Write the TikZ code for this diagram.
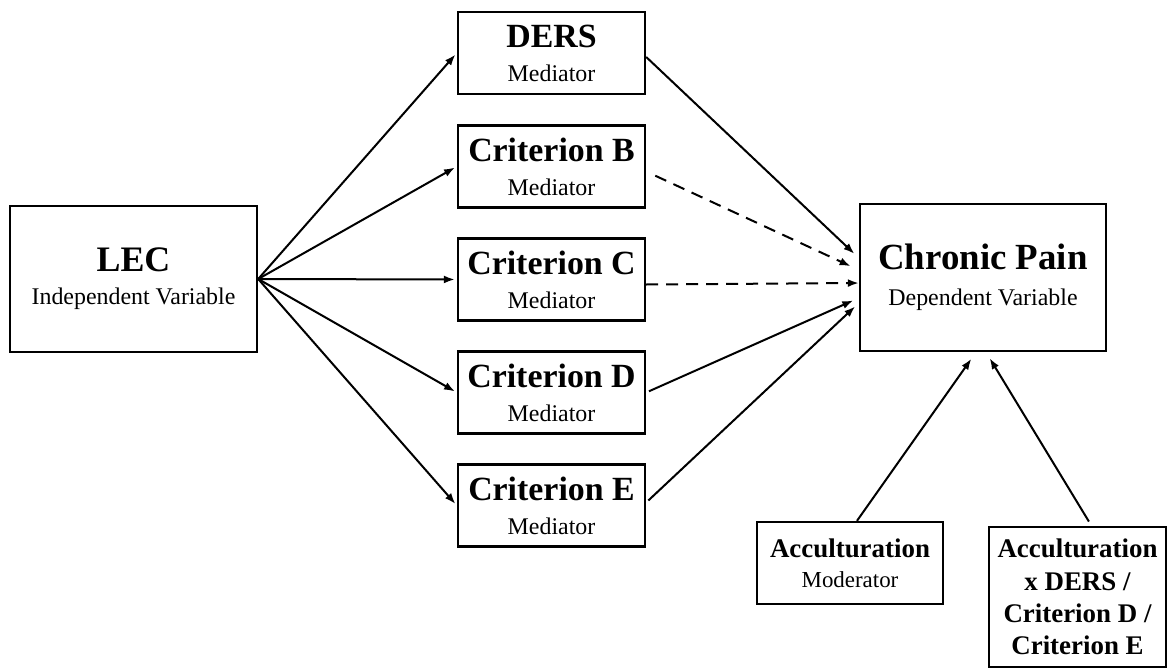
\documentclass[tikz,border=0pt]{standalone}
\usepackage{fontspec}
\setmainfont{Liberation Serif}
\usepackage{tikz}
\usetikzlibrary{arrows.meta,shapes}

\newcommand{\vtitle}[2]{{\fontsize{#1}{#1}\selectfont\bfseries #2}}

\begin{document}
\begin{tikzpicture}[
  box/.style={draw,line width=2.4bp,inner sep=0pt,align=center},
  medbox/.style={box,minimum width=187bp,minimum height=82bp,font=\fontsize{24}{34}\selectfont},
  link/.style={-{Latex[length=11bp,width=8bp]},line width=2bp},
  dlink/.style={link,dash pattern=on 12bp off 8bp}]

\useasboundingbox (0bp,0bp) rectangle (1169bp,-669bp);

\node (LEC) at (133.5bp,-279bp)[box,minimum width=247bp,minimum height=146bp,font=\fontsize{24}{33}\selectfont] {\vtitle{36}{LEC}\\Independent Variable};
\node (DERS) at (551.5bp,-53bp)[medbox] {\vtitle{34}{DERS}\\Mediator};
\node (CritB) at (551.5bp,-166.5bp)[medbox] {\vtitle{34}{Criterion B}\\Mediator};
\node (CritC) at (551.5bp,-279.5bp)[medbox] {\vtitle{34}{Criterion C}\\Mediator};
\node (CritD) at (551.5bp,-392.5bp)[medbox] {\vtitle{34}{Criterion D}\\Mediator};
\node (CritE) at (551.5bp,-505.5bp)[medbox] {\vtitle{34}{Criterion E}\\Mediator};
\node (Pain) at (983bp,-277.5bp)[box,minimum width=246bp,minimum height=147bp,font=\fontsize{24}{36}\selectfont] {\vtitle{37}{Chronic Pain}\\Dependent Variable};
\node (Mod) at (850bp,-563bp)[box,minimum width=186bp,minimum height=82bp,font=\fontsize{23}{30}\selectfont] {\vtitle{27}{Acculturation}\\Moderator};
\node (Inter) at (1077.5bp,-597bp)[box,minimum width=177bp,minimum height=140bp,font=\fontsize{27}{32.5}\selectfont\bfseries] {Acculturation\\x DERS /\\Criterion D /\\Criterion E};

\foreach \m in {DERS,CritB,CritC,CritD,CritE}
  \draw [link,shorten >=2bp] (LEC.east) -- (\m.west);

\draw [link,shorten >=6bp] ([yshift=-4bp]DERS.east) -- ([yshift=19.5bp]Pain.west);
\draw [dlink,shorten <=10bp,shorten >=9bp] ([yshift=-5bp]CritB.east) -- ([yshift=7.5bp]Pain.west);
\draw [dlink] ([yshift=-5bp]CritC.east) -- ([yshift=-5.5bp]Pain.west);
\draw [link,shorten <=3bp,shorten >=6bp] (CritD.east) -- ([yshift=-20.5bp]Pain.west);
\draw [link,shorten <=3bp,shorten >=5bp] ([yshift=3bp]CritE.east) -- ([yshift=-25.5bp]Pain.west);
\draw [link,shorten >=8bp] ([xshift=7bp]Mod.north) -- ([xshift=-7bp]Pain.south);
\draw [link,shorten <=5bp,shorten >=7bp] ([xshift=14bp]Inter.north) -- ([xshift=3bp]Pain.south);
\end{tikzpicture}
\end{document}
